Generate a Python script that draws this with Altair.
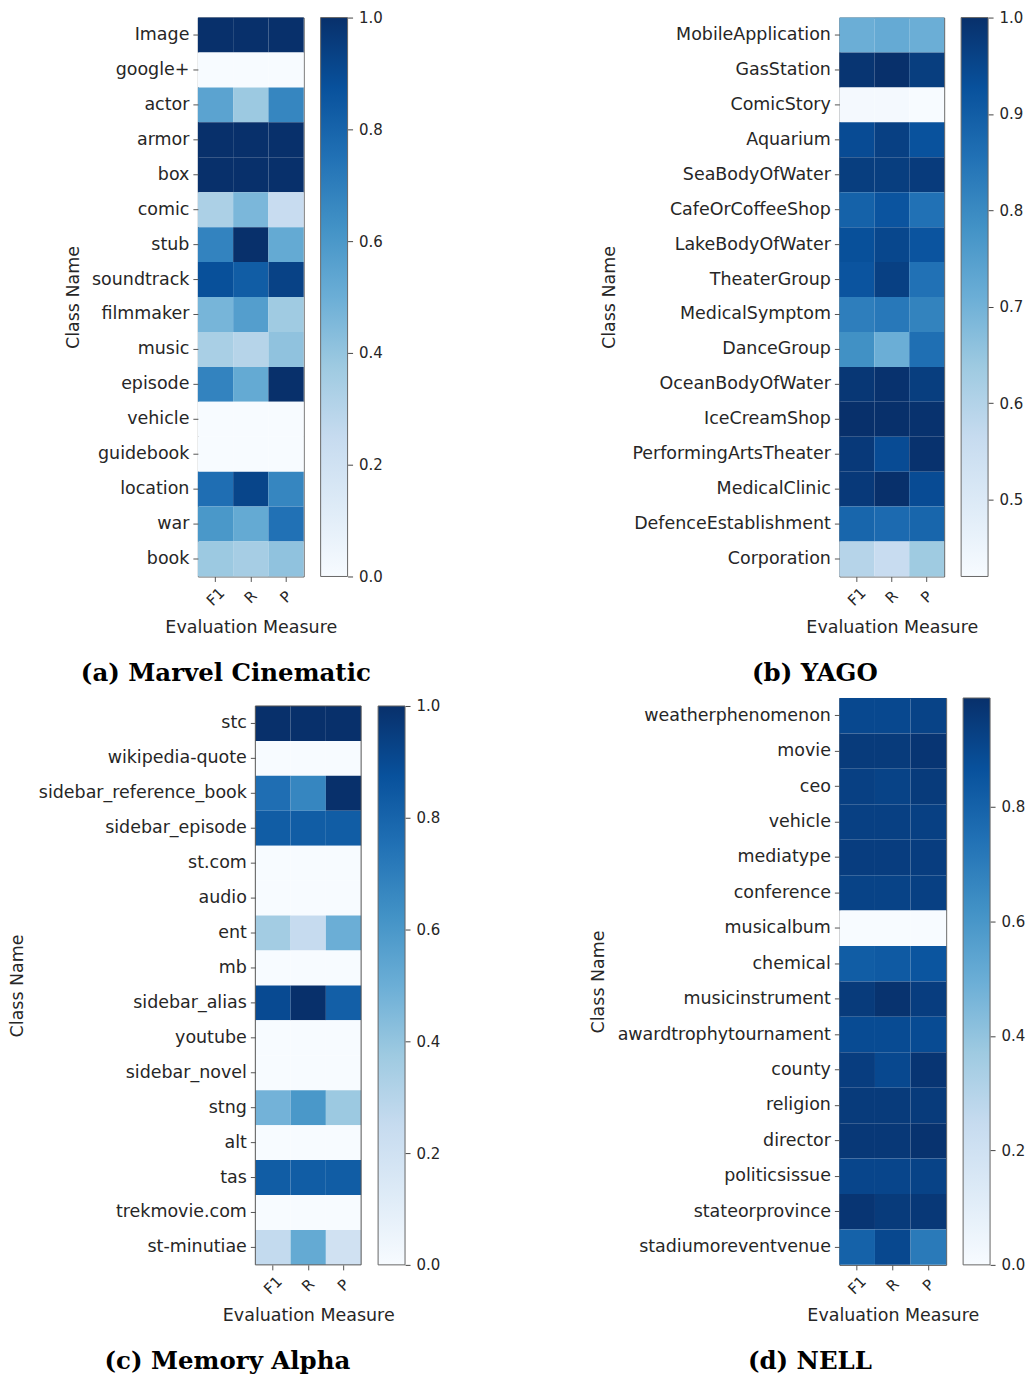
import altair as alt
import pandas as pd

measures = ["F1", "R", "P"]

# (a) Marvel Cinematic
a_classes = ["Image", "google+", "actor", "armor", "box", "comic", "stub", "soundtrack",
             "filmmaker", "music", "episode", "vehicle", "guidebook", "location", "war", "book"]
a_f1 = [1.0, 0.0, 0.55, 1.0, 1.0, 0.33, 0.68, 0.88, 0.47, 0.34, 0.68, 0.0, 0.0, 0.76, 0.60, 0.38]
a_r = [1.0, 0.0, 0.38, 1.0, 1.0, 0.46, 1.0, 0.83, 0.57, 0.30, 0.52, 0.0, 0.0, 0.92, 0.52, 0.35]
a_p = [1.0, 0.0, 0.67, 1.0, 1.0, 0.24, 0.52, 0.93, 0.37, 0.41, 1.0, 0.0, 0.0, 0.67, 0.75, 0.41]

# (b) YAGO
b_classes = ["MobileApplication", "GasStation", "ComicStory", "Aquarium", "SeaBodyOfWater",
             "CafeOrCoffeeShop", "LakeBodyOfWater", "TheaterGroup", "MedicalSymptom", "DanceGroup",
             "OceanBodyOfWater", "IceCreamShop", "PerformingArtsTheater", "MedicalClinic",
             "DefenceEstablishment", "Corporation"]
b_f1 = [0.71, 0.99, 0.43, 0.94, 0.97, 0.89, 0.93, 0.92, 0.826, 0.785, 0.985, 1.0, 0.98, 0.98, 0.88, 0.594]
b_r = [0.72, 1.0, 0.43, 0.965, 0.97, 0.92, 0.95, 0.965, 0.84, 0.71, 0.995, 1.0, 0.94, 1.0, 0.87, 0.56]
b_p = [0.71, 0.97, 0.42, 0.925, 0.975, 0.855, 0.92, 0.855, 0.815, 0.86, 0.97, 0.995, 0.995, 0.94, 0.88, 0.635]

# (c) Memory Alpha
c_classes = ["stc", "wikipedia-quote", "sidebar_reference_book", "sidebar_episode", "st.com",
             "audio", "ent", "mb", "sidebar_alias", "youtube", "sidebar_novel", "stng", "alt",
             "tas", "trekmovie.com", "st-minutiae"]
c_f1 = [1.0, 0.0, 0.76, 0.83, 0.0, 0.0, 0.36, 0.0, 0.90, 0.0, 0.0, 0.48, 0.0, 0.83, 0.0, 0.26]
c_r = [1.0, 0.0, 0.67, 0.83, 0.0, 0.0, 0.25, 0.0, 1.0, 0.0, 0.0, 0.60, 0.0, 0.83, 0.0, 0.52]
c_p = [1.0, 0.0, 1.0, 0.83, 0.0, 0.0, 0.50, 0.0, 0.82, 0.0, 0.0, 0.38, 0.0, 0.83, 0.0, 0.20]

# (d) NELL
d_classes = ["weatherphenomenon", "movie", "ceo", "vehicle", "mediatype", "conference",
             "musicalbum", "chemical", "musicinstrument", "awardtrophytournament", "county",
             "religion", "director", "politicsissue", "stateorprovince", "stadiumoreventvenue"]
d_f1 = [0.90, 0.95, 0.93, 0.93, 0.94, 0.92, 0.0, 0.82, 0.95, 0.89, 0.94, 0.95, 0.96, 0.91, 0.97, 0.80]
d_r = [0.90, 0.95, 0.92, 0.93, 0.94, 0.92, 0.0, 0.83, 0.98, 0.89, 0.90, 0.95, 0.96, 0.91, 0.95, 0.90]
d_p = [0.92, 0.97, 0.95, 0.93, 0.94, 0.93, 0.0, 0.85, 0.94, 0.89, 0.97, 0.95, 0.98, 0.92, 0.96, 0.71]

BLUES = ["#f7fbff", "#deebf7", "#c6dbef", "#9ecae1", "#6baed6",
         "#4292c6", "#2171b5", "#08519c", "#08306b"]
TXT = "#262626"
FRAME = "#555"


def long_df(classes, f1, r, p):
    rows = []
    for c, x1, x2, x3 in zip(classes, f1, r, p):
        rows.append({"cls": c, "m": "F1", "v": x1})
        rows.append({"cls": c, "m": "R", "v": x2})
        rows.append({"cls": c, "m": "P", "v": x3})
    return pd.DataFrame(rows)


def panel(classes, f1, r, p, lo, hi, ticks, w, h, title_x, caption, cap_dx,
          spacer=None, top_gap=0):
    df = long_df(classes, f1, r, p)
    dom = [lo + i * (hi - lo) / 8 for i in range(9)]
    full_h = h + top_gap
    yaxis_kw = dict(titleX=title_x, titleBaseline="middle", labelLimit=500)
    if top_gap:
        yscale = alt.Scale(paddingInner=0, paddingOuter=0, range=[top_gap, full_h])
        yaxis_kw["titleY"] = top_gap + h / 2
    else:
        yscale = alt.Scale(paddingInner=0, paddingOuter=0)
    heat = alt.Chart(df).mark_rect().encode(
        x=alt.X("m:N", sort=measures, title="Evaluation Measure",
                scale=alt.Scale(paddingInner=0, paddingOuter=0),
                axis=alt.Axis(labelAngle=-45, labelAlign="center", labelBaseline="middle",
                              labelPadding=15, titleY=51, titleBaseline="middle")),
        y=alt.Y("cls:N", sort=classes, title="Class Name", scale=yscale,
                axis=alt.Axis(**yaxis_kw)),
        color=alt.Color("v:Q",
                        scale=alt.Scale(domain=dom, range=BLUES, interpolate="rgb", clamp=True),
                        legend=None),
    )
    # colorbar: gradient strip + quantitative axis on its right
    grad = alt.Gradient(
        gradient="linear", x1=0, y1=1, x2=0, y2=0,
        stops=[alt.GradientStop(offset=i / 8, color=c) for i, c in enumerate(BLUES)])
    bar = alt.Chart(pd.DataFrame({"k": [0]})).mark_rect(
        fill=grad, stroke="#666", strokeWidth=1).encode(
        x=alt.value(w + 17), x2=alt.value(w + 44),
        y=alt.value(top_gap), y2=alt.value(full_h))
    tick_df = pd.DataFrame({"t": ticks})
    cb_axis = alt.Chart(tick_df).mark_point(opacity=0).encode(
        x=alt.value(w + 30),
        y=alt.Y("t:Q", scale=alt.Scale(domain=[lo, hi], nice=False, zero=False,
                                       range=[full_h, top_gap]),
                axis=alt.Axis(orient="right", offset=44, values=ticks, format=".1f",
                              title=None, labelFontSize=15, tickSize=5, labelPadding=6,
                              labelBaseline="middle", labelFlush=False, labelOverlap=False,
                              tickColor="#444")))
    layers = [heat, bar, cb_axis]
    if top_gap:
        frame = alt.Chart(pd.DataFrame({"k": [0]})).mark_rect(
            fill="transparent", stroke=FRAME, strokeWidth=1).encode(
            x=alt.value(0), x2=alt.value(w), y=alt.value(top_gap), y2=alt.value(full_h))
        layers.append(frame)
    if spacer is not None:
        sx, sy = spacer
        sp = alt.Chart(pd.DataFrame({"k": [0]})).mark_rule(opacity=0).encode(
            x=alt.value(sx), y=alt.value(sy), y2=alt.value(sy + 1))
        layers.append(sp)
    chart = alt.layer(*layers).resolve_scale(y="independent").resolve_axis(y="independent")
    props = dict(
        width=w, height=full_h,
        title=alt.TitleParams(caption, orient="bottom", anchor="middle", frame="group",
                              dx=cap_dx, offset=26, font="DejaVu Serif", fontSize=24.5,
                              fontWeight="bold", color="black"),
    )
    if top_gap:
        props["view"] = alt.ViewBackground(stroke="transparent")
    return chart.properties(**props)


t01 = [0.0, 0.2, 0.4, 0.6, 0.8, 1.0]
pa = panel(a_classes, a_f1, a_r, a_p, 0.0, 1.0, t01, 106, 560, -125,
           "(a) Marvel Cinematic", -25, spacer=(300, 280))
pb = panel(b_classes, b_f1, b_r, b_p, 0.42, 1.0, [0.5, 0.6, 0.7, 0.8, 0.9, 1.0], 105, 560, -230,
           "(b) YAGO", -77)
pc = panel(c_classes, c_f1, c_r, c_p, 0.0, 1.0, t01, 106, 560, -238,
           "(c) Memory Alpha", -81, top_gap=8)
pd_ = panel(d_classes, d_f1, d_r, d_p, 0.0, 0.99, [0.0, 0.2, 0.4, 0.6, 0.8], 107, 568, -241,
            "(d) NELL", -83)

chart = alt.concat(pa, pb, pc, pd_, columns=2, align="each", center=True,
                   spacing={"row": 11, "column": 91}
).resolve_scale(color="independent").properties(
    padding=0
).configure_view(
    stroke=FRAME, strokeWidth=1
).configure_axis(
    labelFont="DejaVu Sans", titleFont="DejaVu Sans", labelFontSize=17.5, titleFontSize=17.5,
    titleFontWeight="normal", labelColor=TXT, titleColor=TXT, tickColor="#555",
    tickSize=5, labelPadding=4, domain=False, grid=False
).configure_axisX(
    labelFontSize=15
)

chart.save("out.html", embed_options={"renderer": "svg", "actions": False})
